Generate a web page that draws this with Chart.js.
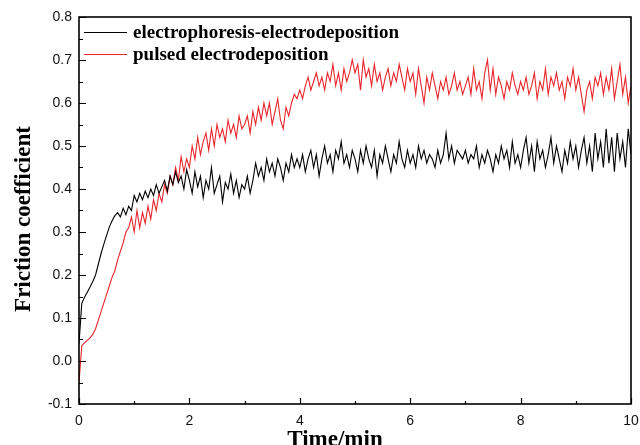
<!DOCTYPE html>
<html>
<head>
<meta charset="UTF-8">
<script src="https://cdn.jsdelivr.net/npm/chart.js@4.4.0/dist/chart.umd.min.js"></script>
<style>
  html, body { margin: 0; padding: 0; background: #fff; }
  .wrap { position: relative; width: 640px; height: 445px; }
</style>
</head>
<body>
<div class="wrap"><canvas id="c"></canvas></div>
<script>
// friction coefficient sampled every 0.05 min, 0 .. 10 min
const T_STEP = 0.05;
const LABELS = ['electrophoresis-electrodeposition', 'pulsed electrodeposition'];
const X_TICKS = [0, 2, 4, 6, 8, 10];
const Y_TICKS = [-0.1, 0.0, 0.1, 0.2, 0.3, 0.4, 0.5, 0.6, 0.7, 0.8];

const EPD = [
  0.04, 0.134, 0.148, 0.16, 0.172, 0.185, 0.20, 0.225, 0.25, 0.272, 0.292, 0.312, 0.326, 0.338, 0.345, 0.335, 0.355, 0.34, 0.36, 0.35,
  0.385, 0.37, 0.39, 0.375, 0.395, 0.38, 0.40, 0.385, 0.41, 0.39, 0.405, 0.42, 0.395, 0.43, 0.41, 0.44, 0.415, 0.43, 0.40, 0.445,
  0.42, 0.39, 0.44, 0.405, 0.43, 0.38, 0.42, 0.40, 0.45, 0.39, 0.41, 0.43, 0.37, 0.415, 0.40, 0.435, 0.39, 0.42, 0.38, 0.41,
  0.40, 0.43, 0.39, 0.42, 0.46, 0.43, 0.45, 0.42, 0.47, 0.44, 0.46, 0.43, 0.47, 0.45, 0.42, 0.46, 0.44, 0.48, 0.45, 0.47,
  0.45, 0.48, 0.44, 0.47, 0.49, 0.45, 0.48, 0.43, 0.47, 0.50, 0.46, 0.48, 0.44, 0.49, 0.47, 0.51, 0.46, 0.48, 0.45, 0.49,
  0.47, 0.44, 0.49, 0.46, 0.50, 0.47, 0.45, 0.49, 0.43, 0.48, 0.46, 0.50, 0.47, 0.44, 0.48, 0.46, 0.51, 0.47, 0.45, 0.49,
  0.46, 0.48, 0.45, 0.50, 0.47, 0.49, 0.46, 0.48, 0.47, 0.45, 0.49, 0.46, 0.48, 0.53, 0.47, 0.50, 0.46, 0.49, 0.48, 0.47,
  0.49, 0.46, 0.48, 0.47, 0.50, 0.45, 0.48, 0.46, 0.49, 0.47, 0.44, 0.48, 0.46, 0.50, 0.47, 0.49, 0.45, 0.51, 0.46, 0.48,
  0.45, 0.49, 0.52, 0.46, 0.50, 0.44, 0.51, 0.47, 0.49, 0.45, 0.48, 0.52, 0.46, 0.50, 0.47, 0.44, 0.49, 0.46, 0.51, 0.47,
  0.50, 0.45, 0.49, 0.52, 0.46, 0.50, 0.44, 0.53, 0.47, 0.51, 0.45, 0.54, 0.46, 0.52, 0.44, 0.53, 0.47, 0.51, 0.45, 0.54, 0.48
];

const PULSED = [
  -0.05, 0.035, 0.042, 0.048, 0.054, 0.062, 0.075, 0.095, 0.115, 0.135, 0.155, 0.175, 0.195, 0.21, 0.235, 0.255, 0.275, 0.30, 0.31, 0.335,
  0.30, 0.35, 0.31, 0.345, 0.32, 0.36, 0.33, 0.375, 0.35, 0.39, 0.37, 0.41, 0.39, 0.43, 0.41, 0.45, 0.42, 0.475, 0.44, 0.47,
  0.45, 0.50, 0.47, 0.52, 0.48, 0.51, 0.53, 0.49, 0.54, 0.50, 0.55, 0.52, 0.54, 0.51, 0.56, 0.53, 0.55, 0.52, 0.57, 0.54,
  0.55, 0.57, 0.53, 0.58, 0.55, 0.59, 0.56, 0.60, 0.57, 0.60, 0.55, 0.58, 0.61, 0.56, 0.54, 0.59, 0.57, 0.60, 0.62, 0.61,
  0.63, 0.61, 0.64, 0.66, 0.63, 0.65, 0.67, 0.64, 0.66, 0.63, 0.67, 0.65, 0.69, 0.64, 0.67, 0.63, 0.68, 0.65, 0.67, 0.70,
  0.67, 0.69, 0.63, 0.70, 0.66, 0.68, 0.64, 0.69, 0.65, 0.67, 0.63, 0.66, 0.68, 0.64, 0.67, 0.65, 0.69, 0.66, 0.63, 0.68,
  0.65, 0.67, 0.62, 0.68, 0.64, 0.60, 0.66, 0.63, 0.67, 0.64, 0.61, 0.65, 0.63, 0.66, 0.62, 0.64, 0.67, 0.63, 0.65, 0.62,
  0.64, 0.66, 0.62, 0.68, 0.63, 0.65, 0.61, 0.67, 0.70, 0.63, 0.68, 0.62, 0.66, 0.64, 0.61, 0.65, 0.63, 0.67, 0.64, 0.62,
  0.65, 0.63, 0.66, 0.62, 0.64, 0.67, 0.61, 0.65, 0.63, 0.68, 0.62, 0.66, 0.64, 0.67, 0.63, 0.65, 0.61, 0.66, 0.64, 0.68,
  0.63, 0.66, 0.62, 0.58, 0.63, 0.65, 0.61, 0.66, 0.64, 0.67, 0.62, 0.66, 0.63, 0.68, 0.61, 0.65, 0.69, 0.62, 0.66, 0.60, 0.64
];

const COLORS = ['#000000', '#e8262b'];

const toPoints = (arr) => arr.map((y, i) => ({ x: +(i * T_STEP).toFixed(2), y }));

// frame, inward ticks, axis titles and legend
const decor = {
  id: 'decor',
  afterDraw(chart) {
    const { ctx, chartArea: ca, scales: { x, y } } = chart;
    ctx.save();
    ctx.strokeStyle = '#000';
    ctx.lineWidth = 1.2;
    ctx.beginPath();
    for (let v = 0; v <= 10; v++) {
      const px = Math.round(x.getPixelForValue(v)) + 0.5;
      const len = v % 2 === 0 ? 6 : 3;
      ctx.moveTo(px, ca.bottom);
      ctx.lineTo(px, ca.bottom - len);
    }
    for (let k = -2; k <= 16; k++) {
      const py = Math.round(y.getPixelForValue(k * 0.05)) + 0.5;
      const len = k % 2 === 0 ? 7 : 4;
      ctx.moveTo(ca.left, py);
      ctx.lineTo(ca.left + len, py);
    }
    ctx.stroke();

    ctx.lineWidth = 1.6;
    ctx.strokeRect(ca.left, ca.top, ca.right - ca.left, ca.bottom - ca.top);

    ctx.fillStyle = '#000';
    ctx.font = 'bold 23px "Liberation Serif", "Times New Roman", serif';
    ctx.textAlign = 'center';
    ctx.textBaseline = 'alphabetic';
    ctx.fillText('Time/min', 335, 446);

    ctx.save();
    ctx.translate(30, 219);
    ctx.rotate(-Math.PI / 2);
    ctx.fillText('Friction coefficient', 0, 0);
    ctx.restore();

    ctx.font = 'bold 19px "Liberation Serif", "Times New Roman", serif';
    ctx.textAlign = 'left';
    const rows = [32, 54];
    LABELS.forEach((lab, i) => {
      ctx.strokeStyle = COLORS[i];
      ctx.lineWidth = 1.2;
      ctx.beginPath();
      ctx.moveTo(84, rows[i] + 0.5);
      ctx.lineTo(127, rows[i] + 0.5);
      ctx.stroke();
      ctx.fillText(lab, 133, rows[i] + 6);
    });
    ctx.restore();
  }
};

new Chart(document.getElementById('c'), {
  type: 'line',
  data: {
    datasets: [
      { label: LABELS[0], data: toPoints(EPD), borderColor: COLORS[0], borderWidth: 1.1, pointRadius: 0, tension: 0, order: 1 },
      { label: LABELS[1], data: toPoints(PULSED), borderColor: COLORS[1], borderWidth: 1.1, pointRadius: 0, tension: 0, order: 2 }
    ]
  },
  options: {
    responsive: true,
    maintainAspectRatio: false,
    animation: false,
    layout: { padding: { left: 0, right: 9, top: 17, bottom: 0 } },
    plugins: { legend: { display: false }, tooltip: { enabled: false } },
    scales: {
      x: {
        type: 'linear',
        min: 0, max: 10,
        afterFit: (s) => { s.height = 41; s.paddingLeft = 0; s.paddingRight = 0; },
        afterBuildTicks: (s) => { s.ticks = X_TICKS.map((v) => ({ value: v })); },
        grid: { display: false, drawTicks: false },
        border: { display: false },
        ticks: { padding: 9, color: '#111', font: { family: '"Liberation Sans", Arial, sans-serif', size: 14 } }
      },
      y: {
        min: -0.1, max: 0.8,
        afterFit: (s) => { s.width = 79; },
        afterBuildTicks: (s) => { s.ticks = Y_TICKS.map((v) => ({ value: v })); },
        grid: { display: false, drawTicks: false },
        border: { display: false },
        ticks: {
          padding: 7, color: '#111',
          font: { family: '"Liberation Sans", Arial, sans-serif', size: 14 },
          callback: (v) => Number(v).toFixed(1)
        }
      }
    }
  },
  plugins: [decor]
});
</script>
</body>
</html>
